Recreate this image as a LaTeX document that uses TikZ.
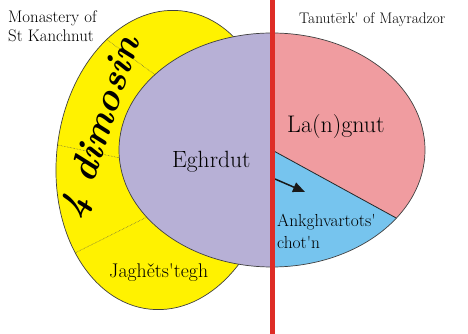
\documentclass[tikz,border=0pt]{standalone}
\usepackage{tikz}
\usetikzlibrary{arrows.meta,positioning,calc}
\newcommand{\ap}{\textquotesingle}
\tikzset{
	rim/.style = {draw=black!75, line width=0.7pt}, % outline of the two ovals
	seam/.style = {densely dotted, line width=0.5pt, black!70},
	lbl/.style = {inner sep=0pt, align=left, text=black},
	pointer/.style = {-{Triangle[length=12pt,width=10pt]}, line width=1.5pt, black!90}
}
\begin{document}
\begin{tikzpicture}[x=1pt, y=1pt]
\definecolor{monastery}{RGB}{255,242,0}
\definecolor{eghrdut}{RGB}{183,176,214}
\definecolor{langnut}{RGB}{240,156,160}
\definecolor{ankgh}{RGB}{118,196,238}
\definecolor{border}{RGB}{222,45,38}
\useasboundingbox (0,0) rectangle (468,334);
% outer oval
\coordinate (yc) at (165.5,174);
\filldraw[fill=monastery, rim, rotate around={-6:(yc)}] (yc) ellipse [x radius=109, y radius=150];
\begin{scope}
\clip[rotate around={-6:(yc)}] (yc) ellipse [x radius=109, y radius=150];
\draw[seam] (95,303) -- (165,252);
\draw[seam] (48,191) -- (130,174);
\draw[seam] (75,81) -- (157,122);
\end{scope}
% inner oval
\coordinate (c) at (272,184);
\fill[eghrdut] (c) -- +(90:153 and 117) arc[start angle=90, end angle=270, x radius=153, y radius=117] -- cycle;
\fill[langnut] (c) -- +(-35.6:153 and 117) arc[start angle=-35.6, end angle=90, x radius=153, y radius=117] -- cycle;
\fill[ankgh] (c) -- +(-90:153 and 117) arc[start angle=-90, end angle=-35.6, x radius=153, y radius=117] -- cycle;
\coordinate (w) at ($(c)+(-35.6:153 and 117)$);
\draw[line width=0.8pt, black!85] (c) -- (w);
\draw[rim] (c) ellipse [x radius=153, y radius=117];
\coordinate (p1) at (275,155);
\coordinate (p2) at (305,142);
\draw[pointer] (p1) -- (p2);
% boundary
\coordinate (b1) at (272.5,334);
\coordinate (b2) at (272.5,0);
\draw[border, line width=4.5pt] (b1) -- (b2);
% labels (base = last line)
\node[lbl, anchor=base west, font=\fontsize{16.8}{19}\selectfont] (kanchnut) at (8,292) {Monastery of\\St Kanchnut};
\node[lbl, anchor=base west, font=\fontsize{15.3}{18}\selectfont] (mayradzor) at (299,310) {Tanutērk\ap{} of Mayradzor};
\node[lbl, anchor=base west, font=\fontsize{23.5}{28}\selectfont] (eghrdutlbl) at (172,166) {Eghrdut};
\node[lbl, anchor=base west, font=\fontsize{24}{30}\selectfont] (langnutlbl) at (287,201) {La(n)gnut};
\node[lbl, anchor=base west, font=\fontsize{17.4}{22}\selectfont] (ankghlbl) at (277,85) {Ankghvartots\ap\\chot\ap n};
\node[lbl, anchor=base west, font=\fontsize{19.8}{24}\selectfont] (jaghlbl) at (109,56) {Jaghěts\ap tegh};
\node[lbl, rotate=72, font=\fontsize{38}{44}\selectfont\bfseries\itshape] (dimosin) at (102,206) {4 dimosin};
\end{tikzpicture}
\end{document}
